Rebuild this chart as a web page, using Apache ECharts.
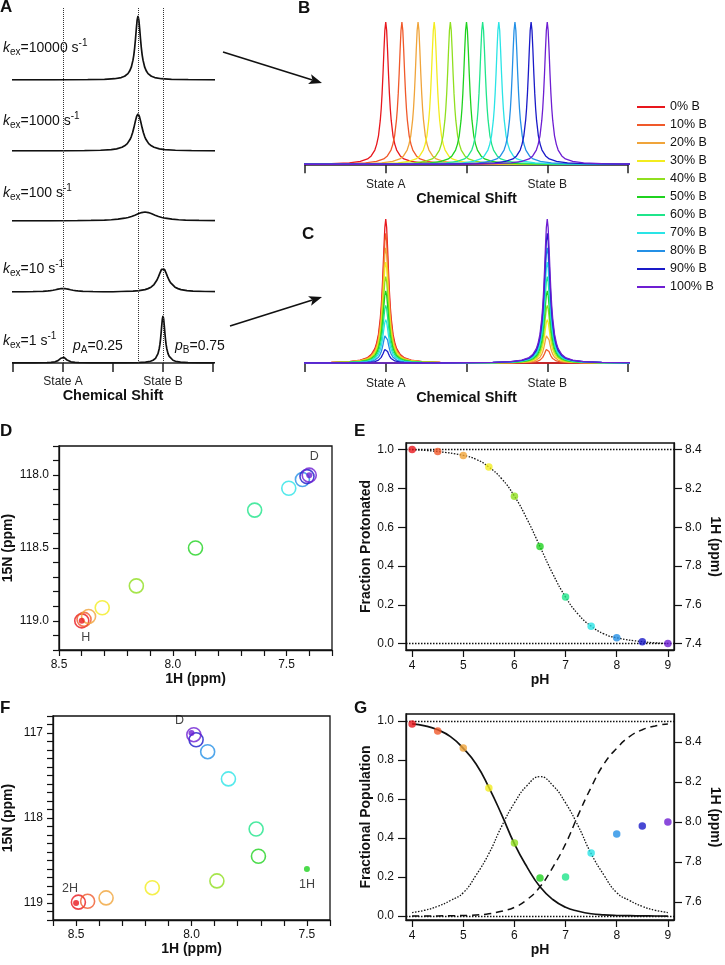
<!DOCTYPE html>
<html>
<head>
<meta charset="utf-8">
<script src="https://cdn.jsdelivr.net/npm/echarts@6.0.0/dist/echarts.min.js"></script>
<style>
  html, body { margin: 0; padding: 0; background: #fff; }
  #main { width: 725px; height: 965px; }
</style>
</head>
<body>
<div id="main"></div>
<script>
// shape of one NMR line: distance from centre (in half-widths) -> relative height
let peakOffsets = [0, 0.25, 0.5, 0.75, 1, 1.25, 1.5, 2, 2.5, 3, 4, 5, 7, 10, 15, 25, 50, 100];
let peakShape = [1, 0.94, 0.8, 0.64, 0.5, 0.39, 0.31, 0.2, 0.14, 0.1, 0.059, 0.038, 0.02, 0.0099, 0.0044, 0.0016, 0.0004, 0.0001];

// panel A: one trace per exchange rate, each peak = [position, height, half-width]
let kexRates = ['10000', '1000', '100', '10', '1'];
let kexPeaks = [
    [[2.5, 64, 0.067]],
    [[2.5, 37, 0.107]],
    [[2.64, 9, 0.27]],
    [[1.0, 3.5, 0.2], [3.0, 24, 0.12]],
    [[1.0, 6, 0.08], [3.0, 47, 0.05]]
];
let stateLines = [1, 2.5, 3];

// panels B and C
let seriesNames = ['0% B', '10% B', '20% B', '30% B', '40% B', '50% B', '60% B', '70% B', '80% B', '90% B', '100% B'];
let seriesColors = ['#e8171d', '#f0592a', '#f0a43a', '#f3ec1f', '#90df1f', '#1fd21f', '#1fe58b', '#2ae4e6', '#2490e6', '#1a1ac8', '#6e1ed2'];
let fastShift = [1.0, 1.2, 1.4, 1.6, 1.8, 2.0, 2.2, 2.4, 2.6, 2.8, 3.0];
let slowHeightA = [1.0, 0.9, 0.8, 0.7, 0.6, 0.5, 0.4, 0.3, 0.2, 0.1, 0.0];
let slowHeightB = [0.0, 0.1, 0.2, 0.3, 0.4, 0.5, 0.6, 0.7, 0.8, 0.9, 1.0];
let lineHalfWidth = 0.045;

// panels D and E
let phValues = [4, 4.5, 5, 5.5, 6, 6.5, 7, 7.5, 8, 8.5, 9];
let dShift1H = [8.40, 8.39, 8.37, 8.31, 8.16, 7.90, 7.64, 7.49, 7.43, 7.41, 7.40];
let dShift15N = [119.0, 118.99, 118.97, 118.91, 118.76, 118.50, 118.24, 118.09, 118.03, 118.01, 118.0];
let dEndpoints = [[8.40, 119.0, 'H'], [7.40, 118.0, 'D']];
let fractionProtonated = [1.0, 0.99, 0.97, 0.91, 0.76, 0.50, 0.24, 0.09, 0.03, 0.01, 0.0];
let fitPH = [4, 4.5, 5, 5.25, 5.5, 5.75, 6, 6.25, 6.5, 6.75, 7, 7.25, 7.5, 7.75, 8, 8.5, 9];
let fitProtonated = [1.0, 0.99, 0.97, 0.95, 0.91, 0.85, 0.76, 0.64, 0.50, 0.36, 0.24, 0.15, 0.09, 0.05, 0.03, 0.01, 0.0];

// panels F and G
let fShift1H = [8.49, 8.45, 8.37, 8.17, 7.89, 7.71, 7.72, 7.84, 7.93, 7.98, 7.99];
let fShift15N = [118.99, 118.98, 118.94, 118.82, 118.74, 118.45, 118.13, 117.54, 117.22, 117.08, 117.02];
let fEndpoints = [[8.5, 119.0, '2H', '#e8171d'], [8.0, 117.0, 'D', '#6e1ed2'], [7.5, 118.6, '1H', '#1fd21f']];
let gShift1H = [8.49, 8.455, 8.37, 8.17, 7.895, 7.72, 7.725, 7.845, 7.94, 7.98, 8.0];
let popPH = [4, 4.25, 4.5, 4.75, 5, 5.25, 5.5, 5.75, 6, 6.25, 6.5, 6.75, 7, 7.25, 7.5, 7.75, 8, 8.25, 8.5, 8.75, 9];
let pop2H = [0.985, 0.975, 0.955, 0.92, 0.86, 0.78, 0.66, 0.52, 0.37, 0.25, 0.15, 0.085, 0.045, 0.025, 0.012, 0.006, 0.003, 0.002, 0.001, 0.0005, 0.0];
let pop1H = [0.018, 0.03, 0.05, 0.08, 0.12, 0.21, 0.32, 0.46, 0.58, 0.67, 0.715, 0.67, 0.58, 0.46, 0.32, 0.21, 0.12, 0.08, 0.05, 0.03, 0.018];
let popD = [0.0, 0.0005, 0.001, 0.002, 0.003, 0.006, 0.012, 0.025, 0.045, 0.085, 0.15, 0.25, 0.37, 0.52, 0.66, 0.78, 0.86, 0.92, 0.955, 0.975, 0.985];

// tick values
let shiftTicks = [0, 1, 2, 3, 4];
let dTicks1H = [7.3, 7.4, 7.5, 7.6, 7.7, 7.8, 7.9, 8.0, 8.1, 8.2, 8.3, 8.4, 8.5];
let dLabels1H = [7.5, 8.0, 8.5];
let dTicks15N = [117.8, 117.9, 118.0, 118.1, 118.2, 118.3, 118.4, 118.5, 118.6, 118.7, 118.8, 118.9, 119.0, 119.1, 119.2];
let dLabels15N = [118.0, 118.5, 119.0];
let fTicks1H = [7.4, 7.5, 7.6, 7.7, 7.8, 7.9, 8.0, 8.1, 8.2, 8.3, 8.4, 8.5, 8.6];
let fLabels1H = [7.5, 8.0, 8.5];
let fTicks15N = [116.8, 116.9, 117.0, 117.1, 117.2, 117.3, 117.4, 117.5, 117.6, 117.7, 117.8, 117.9, 118.0,
    118.1, 118.2, 118.3, 118.4, 118.5, 118.6, 118.7, 118.8, 118.9, 119.0, 119.1, 119.2];
let fLabels15N = [117, 118, 119];
let phTicks = [4, 5, 6, 7, 8, 9];
let fracTicks = [0, 0.2, 0.4, 0.6, 0.8, 1.0];
let eTicks1H = [7.4, 7.6, 7.8, 8.0, 8.2, 8.4];
let gTicks1H = [7.6, 7.8, 8.0, 8.2, 8.4];

const FONT = 'Liberation Sans, Arial, Helvetica, sans-serif';
const INK = '#111';

let chartDom = document.getElementById('main');
let myChart = echarts.init(chartDom);

// peaks placed on a shift axis; each point kept only on the side of its own peak
function buildSpectrum(peaks) {
    let pts = [];
    peaks.forEach(function (p, i) {
        for (let k = -(peakOffsets.length - 1); k < peakOffsets.length; k++) {
            let x = p[0] + Math.sign(k) * peakOffsets[Math.abs(k)] * p[2];
            let own = peaks.every(function (q, j) {
                return j === i || Math.abs(x - p[0]) <= Math.abs(x - q[0]);
            });
            if (own) pts.push([x, p[1] * peakShape[Math.abs(k)]]);
        }
    });
    pts.sort(function (a, b) { return a[0] - b[0]; });
    return pts;
}

let grids = [];
let xAxes = [];
let yAxes = [];
let series = [];
let graphics = [];

function addGrid(g) {
    g.outerBoundsMode = 'none';
    g.containLabel = false;
    grids.push(g);
    return grids.length - 1;
}

function hiddenAxis(grid, min, max) {
    return { gridIndex: grid, type: 'value', min: min, max: max, show: false, splitLine: { show: false } };
}

function shiftAxis(grid) {
    return {
        gridIndex: grid, type: 'value', min: 0, max: 4, interval: 1,
        axisLine: { lineStyle: { color: '#222', width: 1.5 } },
        axisTick: { customValues: shiftTicks, length: 9, lineStyle: { color: '#222', width: 1.5 } },
        splitLine: { show: false },
        axisLabel: {
            customValues: [1, 3], margin: 13, fontSize: 12, color: '#222', fontFamily: FONT,
            formatter: function (v) { return v < 2 ? 'State A' : 'State B'; }
        },
        name: 'Chemical Shift', nameLocation: 'middle', nameGap: 25,
        nameTextStyle: { fontSize: 14.5, fontWeight: 'bold', color: INK, fontFamily: FONT }
    };
}

function numberAxis(grid, opts) {
    let ax = {
        gridIndex: grid, type: 'value', min: opts.min, max: opts.max, inverse: !!opts.inverse,
        position: opts.position,
        axisLine: { show: true, onZero: false, lineStyle: { color: INK, width: 1.3 } },
        axisTick: { show: true, customValues: opts.ticks, length: opts.tickLen || 6, lineStyle: { color: INK, width: 1.2 } },
        splitLine: { show: false },
        axisLabel: {
            customValues: opts.labels, margin: opts.margin || 10, fontSize: 12, color: INK, fontFamily: FONT,
            formatter: opts.formatter || function (v) { return v.toFixed(1); }
        },
        name: opts.name, nameLocation: 'middle', nameGap: opts.nameGap,
        nameTextStyle: { fontSize: 14, fontWeight: 'bold', color: INK, fontFamily: FONT }
    };
    if (opts.nameRotate !== undefined) ax.nameRotate = opts.nameRotate;
    return ax;
}

// ---------- panel A ----------
let gA = addGrid({ left: 13, top: 8, width: 200, height: 355 });
xAxes.push(shiftAxis(gA));
yAxes.push(hiddenAxis(gA, 0, 1));
series.push({
    type: 'line', xAxisIndex: xAxes.length - 1, yAxisIndex: yAxes.length - 1,
    data: [[0, 0]], showSymbol: false, lineStyle: { opacity: 0 }, silent: true,
    markLine: {
        silent: true, symbol: 'none', label: { show: false },
        lineStyle: { type: 'dotted', color: '#333', width: 1 },
        data: stateLines.map(function (v) { return { xAxis: v }; })
    }
});
let kexBase = [80, 151, 221, 292, 363];
kexRates.forEach(function (rate, i) {
    let g = addGrid({ left: 13, top: kexBase[i] - 70, width: 200, height: 70 });
    xAxes.push(hiddenAxis(g, 0, 4));
    yAxes.push(hiddenAxis(g, 0, 70));
    series.push({
        type: 'line', name: 'kex ' + rate, xAxisIndex: xAxes.length - 1, yAxisIndex: yAxes.length - 1,
        data: buildSpectrum(kexPeaks[i]), symbol: 'none', silent: true,
        lineStyle: { color: INK, width: 1.7 }
    });
});

// ---------- panel B ----------
let gB = addGrid({ left: 305, top: 22, width: 323, height: 144 });
xAxes.push(shiftAxis(gB));
yAxes.push(hiddenAxis(gB, -0.012, 1));
let axB = xAxes.length - 1;
seriesNames.forEach(function (name, i) {
    series.push({
        type: 'line', name: name, xAxisIndex: axB, yAxisIndex: axB,
        data: buildSpectrum([[fastShift[i], 1, lineHalfWidth]]), symbol: 'none', silent: true,
        lineStyle: { color: seriesColors[i], width: 1.3 }, itemStyle: { color: seriesColors[i] }
    });
});

// ---------- panel C ----------
let gC = addGrid({ left: 305, top: 219, width: 323, height: 146 });
xAxes.push(shiftAxis(gC));
yAxes.push(hiddenAxis(gC, -0.014, 1));
let axC = xAxes.length - 1;
seriesNames.forEach(function (name, i) {
    series.push({
        type: 'line', name: name, xAxisIndex: axC, yAxisIndex: axC,
        data: buildSpectrum([[1, slowHeightA[i], lineHalfWidth], [3, slowHeightB[i], lineHalfWidth]]),
        symbol: 'none', silent: true,
        lineStyle: { color: seriesColors[i], width: 1.3 }, itemStyle: { color: seriesColors[i] }
    });
});

// ---------- panel D ----------
let gD = addGrid({ left: 59, top: 446, width: 273, height: 204, show: true, borderColor: INK, borderWidth: 1.3 });
xAxes.push(numberAxis(gD, { min: 7.3, max: 8.5, inverse: true, ticks: dTicks1H, labels: dLabels1H, name: '1H (ppm)', nameGap: 22, margin: 9 }));
yAxes.push(numberAxis(gD, { min: 117.8, max: 119.2, inverse: true, ticks: dTicks15N, labels: dLabels15N, name: '15N (ppm)', nameGap: 44, margin: 10 }));
let axD = xAxes.length - 1, ayD = yAxes.length - 1;
series.push({
    type: 'scatter', xAxisIndex: axD, yAxisIndex: ayD, symbol: 'circle', symbolSize: 14, silent: true,
    data: phValues.map(function (ph, i) {
        return { value: [dShift1H[i], dShift15N[i]], itemStyle: { color: 'rgba(255,255,255,0)', borderColor: seriesColors[i], borderWidth: 1.6 } };
    })
});
series.push({
    type: 'scatter', xAxisIndex: axD, yAxisIndex: ayD, symbolSize: 6, silent: true, z: 5,
    data: dEndpoints.map(function (p, i) {
        return {
            value: [p[0], p[1]], itemStyle: { color: i === 0 ? seriesColors[0] : seriesColors[10] },
            label: {
                show: true, formatter: p[2], position: i === 0 ? 'bottom' : 'top', distance: i === 0 ? 7 : 9,
                offset: i === 0 ? [4, 0] : [5, 0], fontSize: 12.5, color: INK, fontFamily: FONT
            }
        };
    })
});

// ---------- panel E ----------
let gE = addGrid({ left: 406, top: 443, width: 268, height: 207, show: true, borderColor: INK, borderWidth: 1.3 });
xAxes.push(numberAxis(gE, { min: 3.88, max: 9.12, ticks: phTicks, labels: phTicks, name: 'pH', nameGap: 22, margin: 10, tickLen: 7, formatter: function (v) { return String(v); } }));
yAxes.push(numberAxis(gE, { min: -0.033, max: 1.034, ticks: fracTicks, labels: fracTicks, name: 'Fraction Protonated', nameGap: 30, margin: 12, tickLen: 8 }));
yAxes.push(numberAxis(gE, { min: 7.367, max: 8.434, position: 'right', ticks: eTicks1H, labels: eTicks1H, name: '1H (ppm)', nameGap: 34, nameRotate: -90, margin: 11, tickLen: 8 }));
let axE = xAxes.length - 1, ayE = yAxes.length - 2;
series.push({
    type: 'line', xAxisIndex: axE, yAxisIndex: ayE, smooth: true, symbol: 'none', silent: true, z: 2,
    data: fitPH.map(function (ph, i) { return [ph, fitProtonated[i]]; }),
    lineStyle: { color: INK, width: 1.3, type: [1.5, 1.5] },
    markLine: {
        silent: true, symbol: 'none', label: { show: false },
        lineStyle: { type: [1.5, 1.5], color: INK, width: 1.3 },
        data: [{ yAxis: 0 }, { yAxis: 1 }]
    }
});
series.push({
    type: 'scatter', xAxisIndex: axE, yAxisIndex: ayE, symbolSize: 7.5, silent: true, z: 6,
    data: phValues.map(function (ph, i) {
        return { value: [ph, fractionProtonated[i]], itemStyle: { color: seriesColors[i] } };
    })
});

// ---------- panel F ----------
let gF = addGrid({ left: 53, top: 716, width: 277, height: 204, show: true, borderColor: INK, borderWidth: 1.3 });
xAxes.push(numberAxis(gF, { min: 7.4, max: 8.6, inverse: true, ticks: fTicks1H, labels: fLabels1H, name: '1H (ppm)', nameGap: 22, margin: 9 }));
yAxes.push(numberAxis(gF, { min: 116.8, max: 119.2, inverse: true, ticks: fTicks15N, labels: fLabels15N, name: '15N (ppm)', nameGap: 38, margin: 10, formatter: function (v) { return String(Math.round(v)); } }));
let axF = xAxes.length - 1, ayF = yAxes.length - 1;
series.push({
    type: 'scatter', xAxisIndex: axF, yAxisIndex: ayF, symbol: 'circle', symbolSize: 14, silent: true,
    data: phValues.map(function (ph, i) {
        return { value: [fShift1H[i], fShift15N[i]], itemStyle: { color: 'rgba(255,255,255,0)', borderColor: seriesColors[i], borderWidth: 1.6 } };
    })
});
series.push({
    type: 'scatter', xAxisIndex: axF, yAxisIndex: ayF, symbolSize: 6, silent: true, z: 5,
    data: fEndpoints.map(function (p, i) {
        let pos = [['top', [-6, 0], 5], ['top', [-12, 0], 3], ['bottom', [0, 0], 6]][i];
        return {
            value: [p[0], p[1]], itemStyle: { color: p[3] },
            label: { show: true, formatter: p[2], position: pos[0], offset: pos[1], distance: pos[2], fontSize: 12.5, color: INK, fontFamily: FONT }
        };
    })
});

// ---------- panel G ----------
let gG = addGrid({ left: 406, top: 714, width: 268, height: 206, show: true, borderColor: INK, borderWidth: 1.3 });
xAxes.push(numberAxis(gG, { min: 3.88, max: 9.12, ticks: phTicks, labels: phTicks, name: 'pH', nameGap: 22, margin: 10, tickLen: 7, formatter: function (v) { return String(v); } }));
yAxes.push(numberAxis(gG, { min: -0.02, max: 1.036, ticks: fracTicks, labels: fracTicks, name: 'Fractional Population', nameGap: 30, margin: 12, tickLen: 8 }));
yAxes.push(numberAxis(gG, { min: 7.51, max: 8.54, position: 'right', ticks: gTicks1H, labels: gTicks1H, name: '1H (ppm)', nameGap: 34, nameRotate: -90, margin: 11, tickLen: 8 }));
let axG = xAxes.length - 1, ayG = yAxes.length - 2, ayG2 = yAxes.length - 1;
function popLine(values, style, width) {
    return {
        type: 'line', xAxisIndex: axG, yAxisIndex: ayG, smooth: true, symbol: 'none', silent: true, z: 2,
        data: popPH.map(function (ph, i) { return [ph, values[i]]; }),
        lineStyle: { color: INK, width: width, type: style }
    };
}
let gSolid = popLine(pop2H, 'solid', 1.7);
gSolid.markLine = {
    silent: true, symbol: 'none', label: { show: false },
    lineStyle: { type: [1.5, 1.5], color: INK, width: 1.3 },
    data: [{ yAxis: 0 }, { yAxis: 1 }]
};
series.push(gSolid);
series.push(popLine(pop1H, [1.5, 1.5], 1.3));
series.push(popLine(popD, [7, 5], 1.5));
series.push({
    type: 'scatter', xAxisIndex: axG, yAxisIndex: ayG2, symbolSize: 7.5, silent: true, z: 6,
    data: phValues.map(function (ph, i) {
        return { value: [ph, gShift1H[i]], itemStyle: { color: seriesColors[i] } };
    })
});

// ---------- labels and arrows ----------
function panelLetter(txt, x, y) {
    graphics.push({ type: 'text', x: x, y: y, style: { text: txt, fontSize: 17, fontWeight: 'bold', fill: INK, fontFamily: FONT, verticalAlign: 'middle' } });
}
panelLetter('A', 0, 7);
panelLetter('B', 298, 8);
panelLetter('C', 302, 234);
panelLetter('D', 0, 431);
panelLetter('E', 354, 431);
panelLetter('F', 0, 708);
panelLetter('G', 354, 708);

let richParts = {
    k: { fontSize: 14, fontStyle: 'italic', fontFamily: FONT, fill: INK, lineHeight: 16 },
    n: { fontSize: 14, fontFamily: FONT, fill: INK, lineHeight: 16 },
    sub: { fontSize: 10, fontFamily: FONT, fill: INK, lineHeight: 10, padding: [9, 0, 0, 0] },
    sup: { fontSize: 10, fontFamily: FONT, fill: INK, lineHeight: 10, padding: [0, 0, 9, 0] }
};
let kexLabelY = [48, 121, 193, 269, 341];
kexRates.forEach(function (rate, i) {
    graphics.push({
        type: 'text', x: 3, y: kexLabelY[i],
        style: { text: '{k|k}{sub|ex}{n|=' + rate + ' s}{sup|-1}', rich: richParts, verticalAlign: 'middle' }
    });
});
graphics.push({ type: 'text', x: 73, y: 346, style: { text: '{k|p}{sub|A}{n|=0.25}', rich: richParts, verticalAlign: 'middle' } });
graphics.push({ type: 'text', x: 175, y: 346, style: { text: '{k|p}{sub|B}{n|=0.75}', rich: richParts, verticalAlign: 'middle' } });

function arrow(x1, y1, x2, y2) {
    let a = Math.atan2(y2 - y1, x2 - x1), L = 13, W = 5;
    let bx = x2 - L * Math.cos(a), by = y2 - L * Math.sin(a);
    let nx = x2 - (L - 3) * Math.cos(a), ny = y2 - (L - 3) * Math.sin(a);
    graphics.push({ type: 'line', shape: { x1: x1, y1: y1, x2: nx, y2: ny }, style: { stroke: INK, lineWidth: 1.6 } });
    graphics.push({
        type: 'polygon',
        shape: { points: [[x2, y2], [bx + W * Math.sin(a), by - W * Math.cos(a)], [nx, ny], [bx - W * Math.sin(a), by + W * Math.cos(a)]] },
        style: { fill: INK }
    });
}
arrow(223, 52, 322, 83);
arrow(230, 326, 322, 297);

let option = {
    animation: false,
    backgroundColor: '#fff',
    textStyle: { fontFamily: FONT },
    grid: grids,
    xAxis: xAxes,
    yAxis: yAxes,
    legend: {
        data: seriesNames, orient: 'vertical', left: 637, top: 99,
        icon: 'rect', itemWidth: 28, itemHeight: 2, itemGap: 2, padding: 0, selectedMode: false,
        textStyle: { fontSize: 12.5, lineHeight: 16, color: INK, fontFamily: FONT, padding: [0, 0, 0, 0] }
    },
    series: series,
    graphic: graphics
};
myChart.setOption(option);
</script>
</body>
</html>
